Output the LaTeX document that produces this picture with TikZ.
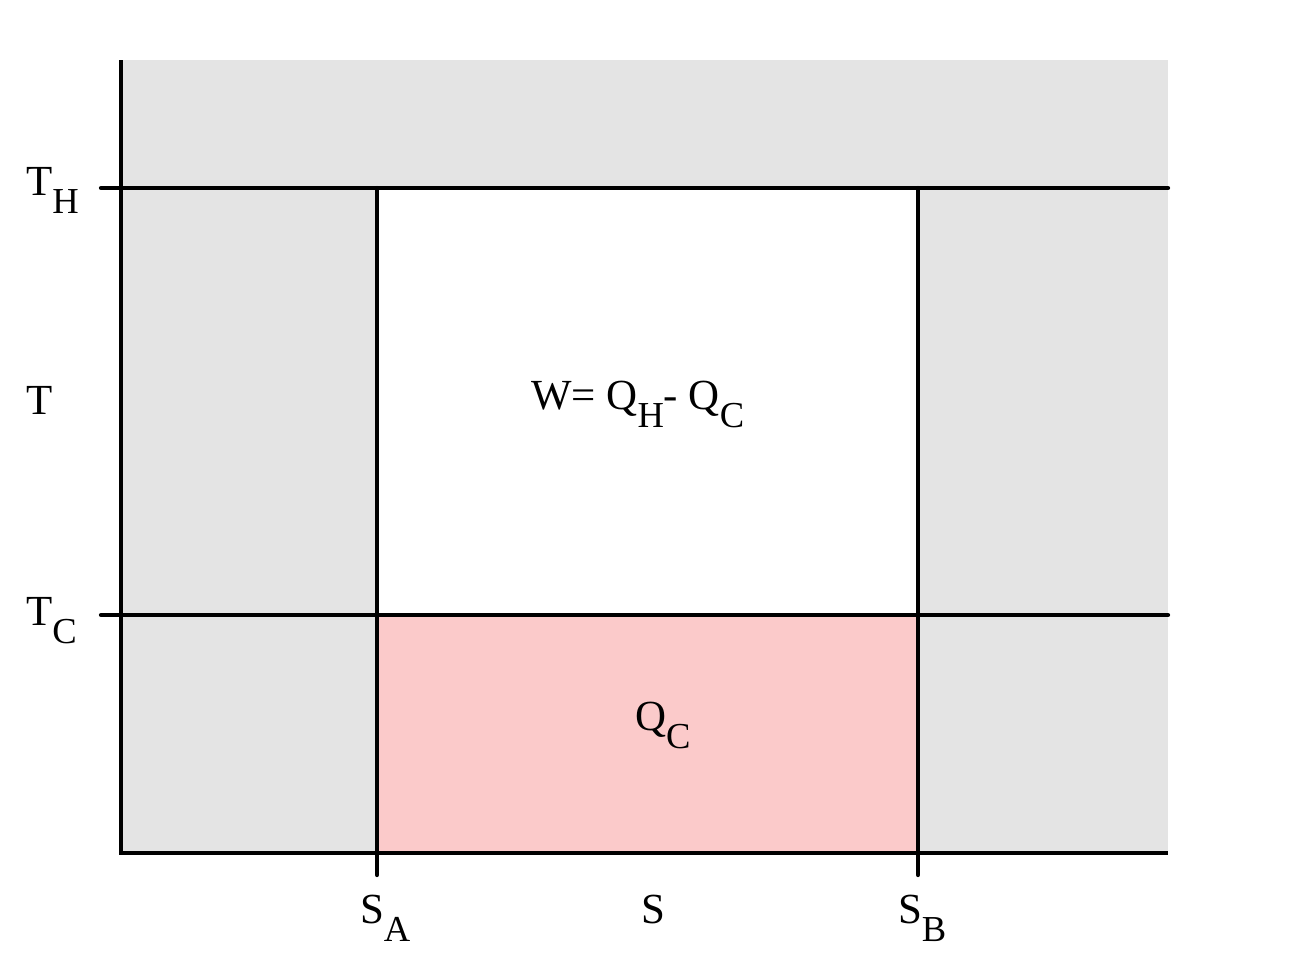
\documentclass[tikz,border=0pt]{standalone}
\usepackage{fontspec}
\setmainfont{Liberation Serif}
\definecolor{hotgray}{RGB}{228,228,228}
\definecolor{coldpink}{RGB}{251,202,202}
% lowered subscript, nearly full size
\newcommand{\lowsub}[1]{\raisebox{-5.2pt}{\fontsize{10.4}{11}\selectfont #1}}

\begin{document}
\begin{tikzpicture}[x=0.01cm, y=-0.01cm, line width=1.2pt, line cap=round,
	font=\fontsize{12.2}{14}\selectfont,
	lbl/.style={inner sep=0pt, anchor=base west}]
\useasboundingbox (0,0) rectangle (1300,975);

%========================
% Regions
%========================
\fill[hotgray] (121,60) rectangle (1168,853);
\fill[white] (377,188) rectangle (918,615);
\fill[coldpink] (377,615) rectangle (918,853);

% points on the axes
\coordinate (top) at (121,60);
\coordinate (origin) at (121,853);
\coordinate (right) at (1168,853);
\coordinate (THa) at (101,188);
\coordinate (THb) at (1168,188);
\coordinate (TCa) at (101,615);
\coordinate (TCb) at (1168,615);
\coordinate (SAa) at (377,188);
\coordinate (SAb) at (377,875);
\coordinate (SBa) at (918,188);
\coordinate (SBb) at (918,875);

%========================
% Axes and isotherms / adiabats
%========================
\draw[line cap=butt] (top) -- (origin) -- (right);
\draw (THa) -- (THb);
\draw (TCa) -- (TCb);
\draw (SAa) -- (SAb);
\draw (SBa) -- (SBb);

%========================
% Labels
%========================
\node[lbl] (th) at (24,195) {T\lowsub{H}};
\node[lbl] (t) at (24,414) {T};
\node[lbl] (tc) at (24,625) {T\lowsub{C}};
\node[lbl] (sa) at (358,923) {S\lowsub{A}};
\node[lbl] (s) at (639,923) {S};
\node[lbl] (sb) at (896,923) {S\lowsub{B}};
\node[lbl] (w) at (529,409) {W= Q\lowsub{H}- Q\lowsub{C}};
\node[lbl] (qc) at (633,730) {Q\lowsub{C}};

\end{tikzpicture}
\end{document}
